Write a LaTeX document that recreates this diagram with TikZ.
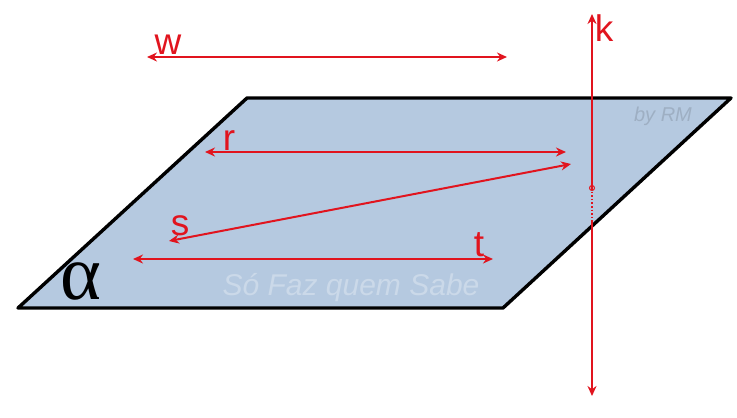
\documentclass[tikz,border=0pt]{standalone}
\usepackage{fontspec}
\setmainfont{Liberation Sans}
\newfontfamily\alphafont{Liberation Serif}
\usepackage{tikz}
\usetikzlibrary{arrows.meta}
\definecolor{planefill}{RGB}{181,201,224}
\definecolor{linered}{RGB}{225,20,30}
\tikzset{
x=1pt,y=-1pt,
plane/.style={draw=black,line width=3.4pt,line join=round,fill=planefill},
retaline/.style={draw=linered,line width=2pt,{Stealth[length=10pt,width=9pt]}-{Stealth[length=10pt,width=9pt]}},
halfline/.style={draw=linered,line width=2pt},
linelabel/.style={text=linered,font=\fontsize{37}{37}\selectfont,inner sep=0pt},
}
\begin{document}
\begin{tikzpicture}
   \useasboundingbox (0,0) rectangle (737,418);
   \coordinate (a_0) at (18,308);
   \coordinate (a_1) at (247,98);
   \coordinate (a_2) at (731,98);
   \coordinate (a_3) at (503,308);
   \draw[plane] (a_0) -- (a_1) -- (a_2) -- (a_3) -- cycle;
   % line ends
   \coordinate (w_0) at (147,57);
   \coordinate (w_1) at (507,57);
   \coordinate (r_0) at (205,152);
   \coordinate (r_1) at (566,152);
   \coordinate (s_0) at (169,241);
   \coordinate (s_1) at (571,164);
   \coordinate (t_0) at (133,259);
   \coordinate (t_1) at (493,259);
   \coordinate (k_0) at (592,14);
   \coordinate (k_1) at (592,188);
   \coordinate (k_2) at (592,222);
   \coordinate (k_3) at (592,396);
   \draw[retaline] (w_0) -- (w_1);
   \draw[retaline] (r_0) -- (r_1);
   \draw[retaline] (s_0) -- (s_1);
   \draw[retaline] (t_0) -- (t_1);
   \draw[halfline,{Stealth[length=10pt,width=9pt]}-] (k_0) -- (k_1);
   \draw[halfline,-{Stealth[length=10pt,width=9pt]}] (k_2) -- (k_3);
   \draw[draw=linered,line width=1.6pt,dotted] (k_1) -- (k_2);
   \node[circle,draw=linered,line width=1pt,minimum size=5pt,inner sep=0pt] (p_0) at (k_1) {};
   % labels
   \node[linelabel] (w) at (168,45) {w};
   \node[linelabel] (r) at (229,141) {r};
   \node[linelabel] (s) at (180,226) {s};
   \node[linelabel] (t) at (479,245) {t};
   \node[linelabel] (k) at (604,28) {k};
   \node[text=black,inner sep=0pt,font=\alphafont\fontsize{78}{78}\selectfont] (alpha) at (81,281) {α};
   \node[text=white!30!planefill,inner sep=0pt,font=\fontsize{30}{30}\selectfont\itshape] (sabe) at (351,288) {Só Faz quem Sabe};
   \node[text=black!13!planefill,inner sep=0pt,font=\fontsize{20}{20}\selectfont\itshape] (rm) at (663,116) {by RM};
\end{tikzpicture}
\end{document}
